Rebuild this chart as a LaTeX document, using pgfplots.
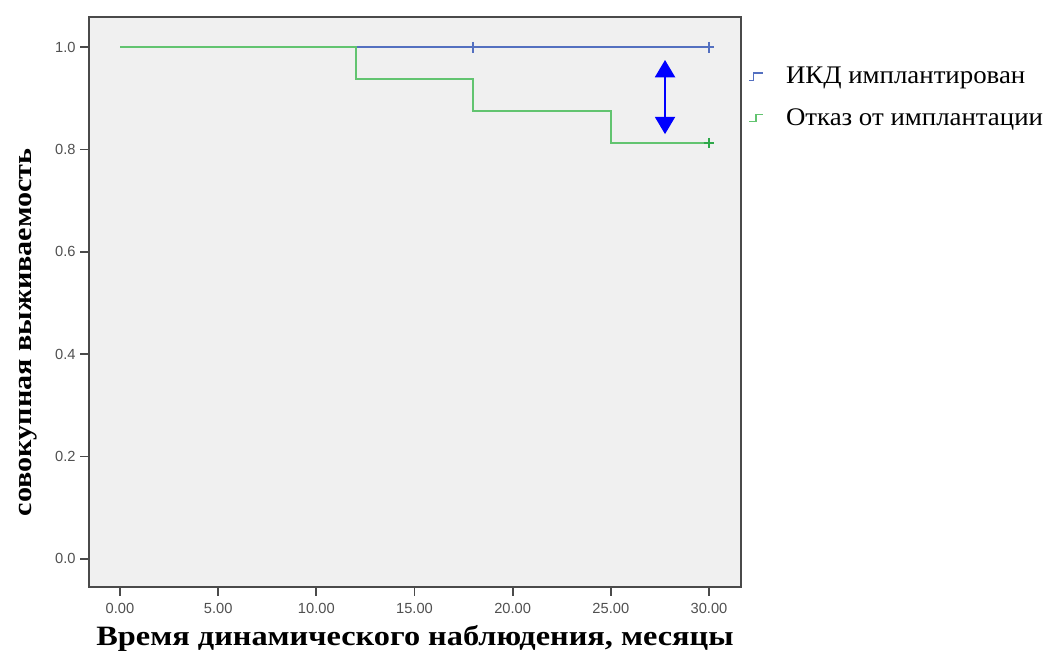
\documentclass[border=0pt]{standalone}
\usepackage{fontspec}
\setmainfont{Liberation Serif}
\newfontfamily\ticksfont{Liberation Sans}
\newfontfamily\xlabfont[FakeStretch=1.155]{Liberation Serif}
\newfontfamily\ylabfont[FakeStretch=1.16]{Liberation Serif}
\newfontfamily\legfont[FakeStretch=1.06]{Liberation Serif}
\usepackage{pgfplots}
\pgfplotsset{compat=1.18}
\usetikzlibrary{arrows.meta}
\definecolor{bgc}{HTML}{F0F0F0}
\definecolor{blueline}{HTML}{5470C0}
\definecolor{greenline}{HTML}{62C470}
\definecolor{greenmark}{HTML}{2EA84A}
\definecolor{framec}{HTML}{4A4A4A}
\definecolor{tickc}{HTML}{505050}
\pgfplotsset{
  stepA/.style={legend image code/.code={\draw[##1] (0pt,-3pt) -- (3pt,-3pt) -- (3pt,2.5pt) -- (10pt,2.5pt);}},
  stepB/.style={legend image code/.code={\draw[##1] (0pt,-3pt) -- (5pt,-3pt) -- (5pt,2.5pt) -- (10pt,2.5pt);}},
}
\begin{document}
\begin{tikzpicture}
\begin{axis}[
  scale only axis,
  width=489pt, height=427.5pt,
  at={(0,0)}, anchor=south west,
  xmin=-1.58, xmax=31.63,
  ymin=-0.055, ymax=1.059,
  axis background/.style={fill=bgc},
  axis line style={framec, line width=1.3pt},
  xtick={0,5,...,30}, ytick={0,0.2,...,1.0},
  xtick pos=left, ytick pos=left,
  tick align=outside,
  major tick length=6.5pt,
  tick style={framec, line width=1.3pt},
  /pgf/number format/assume math mode=true,
  x tick label style={/pgf/number format/.cd, fixed, fixed zerofill, precision=2, /tikz/.cd, font=\ticksfont\fontsize{11}{13}\selectfont, text=tickc, yshift=-2pt},
  y tick label style={/pgf/number format/.cd, fixed, fixed zerofill, precision=1, /tikz/.cd, font=\ticksfont\fontsize{11}{13}\selectfont, text=tickc},
  xlabel={\bfseries Время динамического наблюдения, месяцы},
  xlabel style={font=\xlabfont\fontsize{21}{24}\selectfont, yshift=-2pt},
  ylabel={\bfseries совокупная выживаемость},
  ylabel style={at={(ticklabel cs:0.447)}, font=\ylabfont\fontsize{19.5}{22}\selectfont, yshift=7pt},
  legend style={at={(1.005,0.922)}, anchor=north west, draw=none, fill=none,
    font=\legfont\fontsize{19}{22}\selectfont, row sep=13pt, column sep=15pt},
  legend cell align=left,
]
\addplot[blueline, line width=1.4pt, forget plot] coordinates {(0,1) (30,1)};
\addplot[greenline, line width=1.5pt, forget plot] coordinates {(0,1) (12,1) (12,0.9375) (18,0.9375) (18,0.875) (25,0.875) (25,0.8125) (30,0.8125)};
\addplot[blueline, only marks, mark=+, mark size=4pt, line width=1.4pt, forget plot] coordinates {(18,1) (30,1)};
\addplot[greenmark, only marks, mark=+, mark size=4pt, line width=1.6pt, forget plot] coordinates {(30,0.8125)};
\addlegendimage{blueline, line width=1.1pt, stepA}
\addlegendentry{ИКД имплантирован}
\addlegendimage{greenline, line width=1.1pt, stepB}
\addlegendentry{Отказ от имплантации}
\draw[blue, line width=1.6pt, {Triangle[length=13pt,width=15pt]}-{Triangle[length=13pt,width=15pt]}] (axis cs:27.76,0.975) -- (axis cs:27.76,0.830);
\end{axis}
\pgfresetboundingbox
\useasboundingbox (-66.75pt,-49.5pt) rectangle (719.25pt,440.25pt);
\end{tikzpicture}
\end{document}
